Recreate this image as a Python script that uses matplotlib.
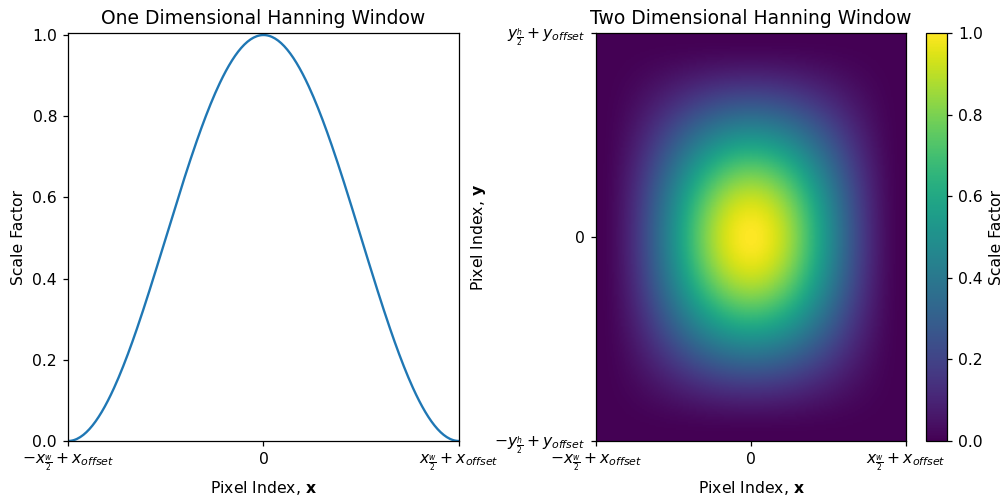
import numpy as np
import matplotlib; matplotlib.use('Agg')
import matplotlib.pyplot as plt

# window size in pixels (width, height)
win_w = 256
win_h = 256

x_ticklabels = [r'$-x_{\frac{w}{2}} + x_{offset}$', '0', r'$x_{\frac{w}{2}} + x_{offset}$']
y_ticklabels = [r'$-y_{\frac{h}{2}} + y_{offset}$', '0', r'$y_{\frac{h}{2}} + y_{offset}$']
cbar_ticks = [0.0, 0.2, 0.4, 0.6, 0.8, 1.0]

han_x = np.hanning(win_w)
han_y = np.hanning(win_h)
han_2d = np.outer(han_y, han_x)
px = np.arange(win_w) - (win_w - 1) / 2

DPI = 112.5
fig = plt.figure(figsize=(1003/DPI, 502/DPI), dpi=DPI)

# 1D window
ax1 = fig.add_axes([68/1003, 61/502, 391/1003, 408/502])
ax1.plot(px, han_x, color='#1f77b4', lw=1.5)
ax1.set_xlim(px[0], px[-1])
ax1.set_ylim(0, 1.005)
ax1.set_xticks([px[0], 0, px[-1]])
ax1.set_xticklabels(x_ticklabels)
ax1.set_xlabel(r'Pixel Index, $\mathbf{x}$')
ax1.set_ylabel('Scale Factor')
ax1.set_title('One Dimensional Hanning Window')

# 2D window
ax2 = fig.add_axes([596/1003, 61/502, 310/1003, 408/502])
ext = [-win_w/2, win_w/2, -win_h/2, win_h/2]
im = ax2.imshow(han_2d, cmap='viridis', extent=ext, origin='lower', aspect='auto', vmin=0, vmax=1)
ax2.set_xticks([ext[0], 0, ext[1]])
ax2.set_xticklabels(x_ticklabels)
ax2.set_yticks([ext[2], 0, ext[3]])
ax2.set_yticklabels(y_ticklabels)
ax2.set_xlabel(r'Pixel Index, $\mathbf{x}$')
ax2.set_ylabel(r'Pixel Index, $\mathbf{y}$')
ax2.set_title('Two Dimensional Hanning Window')

cax = fig.add_axes([926/1003, 61/502, 21/1003, 408/502])
cb = fig.colorbar(im, cax=cax, ticks=cbar_ticks)
cb.set_label('Scale Factor')

fig.savefig('out.png', dpi=DPI)
